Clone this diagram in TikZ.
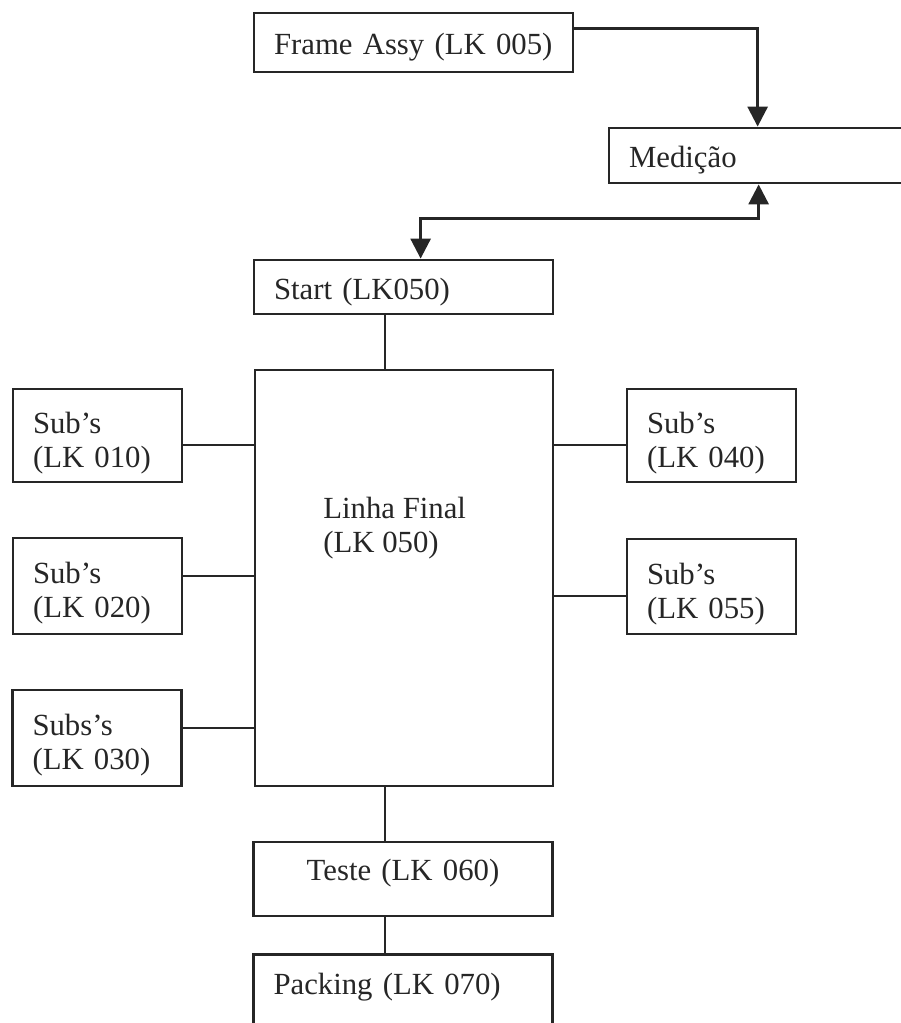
\documentclass[tikz,border=0pt]{standalone}
\usepackage{fontspec}
\setmainfont{Liberation Serif}
\usepackage{tikz}
\usetikzlibrary{calc}
\usetikzlibrary{arrows.meta}
\tikzset{txt/.style={text=black!85,font=\fontsize{17.5pt}{19.5pt}\selectfont}}
\tikzset{blk/.style={txt,rectangle,draw=black!85,line width=1.6pt,inner xsep=0.4cm,inner ysep=0pt,align=left}}
\tikzset{one/.style={blk,text height=0.63cm,text depth=0.13cm}}
\tikzset{wide/.style={one,text width=5.18cm}}
\tikzset{subbox/.style={blk,text width=2.58cm,execute at begin node={\rule{0pt}{0.72cm}}}}
\tikzset{wire/.style={draw=black!85,line width=1.6pt}}
\tikzset{tri/.style={wire,-{Triangle[length=0.4cm,width=0.4cm]}}}
\tikzset{bitri/.style={wire,{Triangle[length=0.4cm,width=0.4cm]}-{Triangle[length=0.4cm,width=0.4cm]}}}

\begin{document}
\begin{tikzpicture}[x=0.02cm,y=-0.02cm]
\useasboundingbox (0,0) rectangle (901,1023);
\clip (0,0) rectangle (901,1023);
  % top row
  \node[one, text width=5.58cm, minimum height=1.18cm] (frame) at (413.5,42.5) {Frame Assy (LK 005)};
  \node[one, text width=6.0cm, minimum height=1.1cm] (med) at (779,155.5) {Medição};
  \node[wide, minimum height=1.08cm] (start) at (403.5,287) {Start (LK050)};

  % final line
  \node[blk, minimum width=5.96cm, minimum height=8.32cm] (linha) at (404,578) {};
  \node[txt, anchor=north west, align=left, inner sep=0pt] (linhatxt) at (323,497) {Linha Final\\(LK 050)};

  \node[subbox, minimum height=1.86cm] (s010) at (97.5,435.5) {Sub’s\\(LK 010)};
  \node[subbox, minimum height=1.92cm] (s020) at (97.5,586) {Sub’s\\(LK 020)};
  \node[subbox, minimum height=1.92cm] (s030) at (97,738) {Subs’s\\(LK 030)};
  \node[subbox, minimum height=1.86cm] (s040) at (711.5,435.5) {Sub’s\\(LK 040)};
  \node[subbox, minimum height=1.90cm] (s055) at (711.5,586.5) {Sub’s\\(LK 055)};

  \node[wide, align=center, text height=0.43cm, text depth=0.39cm, minimum height=1.48cm] (teste) at (403,879) {Teste (LK 060)};
  \node[wide, anchor=north, text height=0.8cm, text depth=0.8cm] (packing) at (403,953) {Packing (LK 070)};

  \coordinate (spine) at (385,0);
  \draw[tri] ($(frame.north east)!0.28!(frame.south east)$) -| ($(med.north west)+(150,0)$);
  \draw[bitri] ($(med.south west)+(151,0)$) |- ($(start.north west)+(168,-40)$) -- ($(start.north west)+(168,0)$);
  \draw[wire] (start.south -| spine) -- (linha.north -| spine);
  \draw[wire] (linha.south -| spine) -- (teste.north -| spine);
  \draw[wire] (teste.south -| spine) -- (packing.north -| spine);

  \foreach \n/\d in {s010/9.5,s020/-10,s030/-10}{
    \coordinate (tmp) at ($(\n.east)+(0,\d)$);
    \draw[wire] (tmp) -- (tmp -| linha.west);
  }
  \foreach \n/\d in {s040/9.5,s055/9.5}{
    \coordinate (tmp) at ($(\n.west)+(0,\d)$);
    \draw[wire] (tmp) -- (tmp -| linha.east);
  }
\end{tikzpicture}
\end{document}
